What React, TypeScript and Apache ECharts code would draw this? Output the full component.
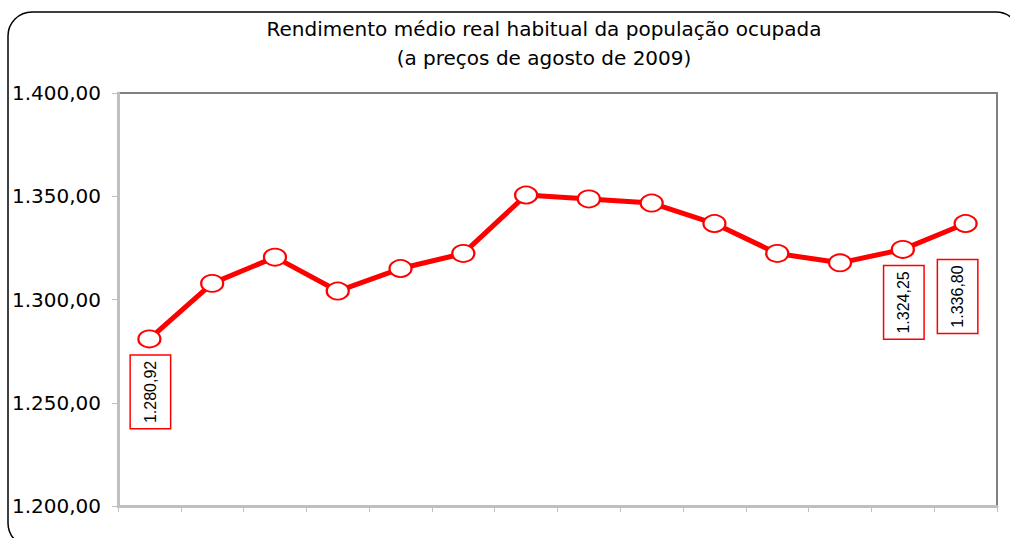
import React, { useEffect, useRef } from "react";
import * as echarts from "echarts";

const titleLines = [
  "Rendimento médio real habitual da população ocupada",
  "(a preços de agosto de 2009)",
];
const categories = [
  "jul/08", "ago/08", "set/08", "out/08", "nov/08", "dez/08", "jan/09",
  "fev/09", "mar/09", "abr/09", "mai/09", "jun/09", "jul/09", "ago/09",
];
const values = [
  1280.92, 1307.8, 1320.5, 1304.1, 1315.0, 1322.3, 1350.6,
  1348.7, 1346.7, 1336.8, 1322.3, 1317.75, 1324.25, 1336.8,
];
const labelledIdx = [0, 12, 13];
const labelOffsetsDown = [53, 53, 73];
const labelOffsetsRight = [1, 1, -8];
const yMin = 1200;
const yMax = 1400;
const yStep = 50;

function fmtBR(v: number): string {
  const s = v.toFixed(2);
  const [int, dec] = s.split(".");
  const withDots = int.replace(/\B(?=(\d{3})+(?!\d))/g, ".");
  return withDots + "," + dec;
}

export default function App() {
  const ref = useRef<HTMLDivElement>(null);
  useEffect(() => {
    if (!ref.current) return;
    const chart = echarts.init(ref.current, null, { renderer: "svg" });
    const data = values.map((v, i) => {
      const li = labelledIdx.indexOf(i);
      if (li < 0) return v;
      return {
        value: v,
        label: {
          show: true,
          position: "inside",
          // offset is applied in the rotated frame: [-down, right]
          offset: [-labelOffsetsDown[li], labelOffsetsRight[li]],
          rotate: 90,
          formatter: (p: any) => fmtBR(p.value),
          fontFamily: "'Liberation Sans', Arial, sans-serif",
          fontSize: 16,
          lineHeight: 19,
          color: "#000",
          borderColor: "#ff0000",
          borderWidth: 1.5,
          padding: [10, 5, 10, 5],
          backgroundColor: "#fff",
        },
      };
    });
    chart.setOption({
      animation: false,
      backgroundColor: "#fff",
      title: {
        text: titleLines.join("\n"),
        left: 539,
        top: 9,
        textAlign: "center",
        textStyle: {
          fontFamily: "'DejaVu Sans', sans-serif",
          fontSize: 20,
          fontWeight: "normal",
          color: "#000",
          lineHeight: 29,
        },
      },
      graphic: [
        {
          type: "rect",
          shape: { x: 8, y: 12, width: 1012, height: 535, r: 24 },
          style: { fill: "none", stroke: "#000", lineWidth: 1.5 },
          z: 100,
        },
      ],
      grid: {
        left: 118,
        right: 13,
        top: 93,
        bottom: 32,
        show: true,
        borderColor: "#808080",
        borderWidth: 2,
      },
      xAxis: {
        type: "category",
        data: categories,
        boundaryGap: true,
        axisLine: { show: true, lineStyle: { color: "#c0c0c0", width: 3 } },
        axisTick: { show: true, length: 6, lineStyle: { color: "#c0c0c0", width: 1 } },
        axisLabel: { show: false },
        splitLine: { show: false },
      },
      yAxis: {
        type: "value",
        min: yMin,
        max: yMax,
        interval: yStep,
        axisLine: { show: true, lineStyle: { color: "#c0c0c0", width: 3 } },
        axisTick: { show: true, length: 6, lineStyle: { color: "#c0c0c0", width: 1 } },
        axisLabel: {
          formatter: (v: number) => fmtBR(v),
          fontFamily: "'DejaVu Sans', sans-serif",
          fontSize: 20,
          color: "#000",
          margin: 17,
        },
        splitLine: { show: false },
      },
      series: [
        {
          type: "line",
          data,
          symbol: "circle",
          symbolSize: [22, 17],
          showAllSymbol: true,
          lineStyle: { color: "#ff0000", width: 5 },
          itemStyle: { color: "#fff", borderColor: "#ff0000", borderWidth: 2 },
          label: { show: false },
          emphasis: { disabled: true },
        },
      ],
    });
    return () => chart.dispose();
  }, []);
  return (
    <div
      ref={ref}
      style={{ position: "fixed", left: 0, top: 0, width: 1010, height: 538 }}
    />
  );
}
